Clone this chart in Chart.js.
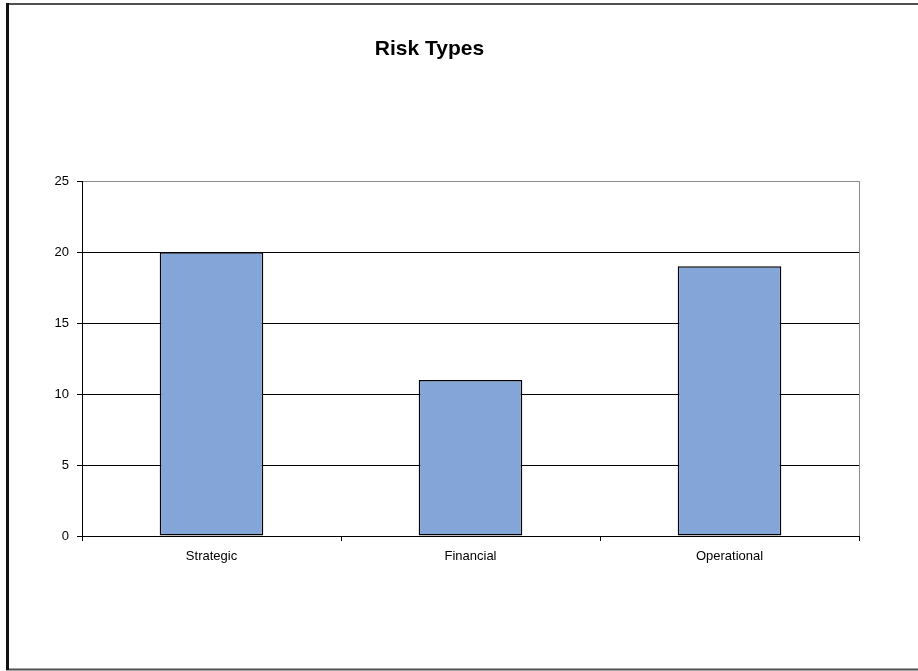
<!DOCTYPE html>
<html>
<head>
<meta charset="utf-8">
<script src="https://cdn.jsdelivr.net/npm/chart.js@4.4.1/dist/chart.umd.min.js"></script>
<style>
    html, body { margin: 0; padding: 0; background: #ffffff; }
    canvas { display: block; }
</style>
</head>
<body>
<canvas id="riskChart" width="918" height="671"></canvas>
<script>
const categories = ["Strategic", "Financial", "Operational"];
const riskCounts = [20, 11, 19];
const yTicks = [0, 5, 10, 15, 20, 25];

const colors = {
    bar: "#84a5d7",
    edge: "#000000",
    plotBorder: "#8c8c8c",
    frame: "#505050",
};

// page frame + right edge of the plot area, drawn like the Excel export
const framePlugin = {
    id: "frame",
    afterDraw(chart) {
        const ctx = chart.ctx;
        const area = chart.chartArea;
        ctx.save();
        ctx.strokeStyle = colors.frame;
        ctx.lineWidth = 2;
        ctx.beginPath();
        ctx.moveTo(6, 4);
        ctx.lineTo(918, 4);
        ctx.moveTo(6, 669.5);
        ctx.lineTo(918, 669.5);
        ctx.stroke();
        ctx.fillStyle = "#111111";
        ctx.fillRect(6, 3, 3, 667);
        ctx.strokeStyle = colors.plotBorder;
        ctx.lineWidth = 1;
        ctx.beginPath();
        ctx.moveTo(Math.round(area.right) + 0.5, area.top);
        ctx.lineTo(Math.round(area.right) + 0.5, area.bottom);
        ctx.stroke();
        ctx.restore();
    },
};

new Chart(document.getElementById("riskChart"), {
    type: "bar",
    data: {
        labels: categories,
        datasets: [
            {
                data: riskCounts,
                backgroundColor: colors.bar,
                borderColor: colors.edge,
                borderWidth: 1.5,
                borderSkipped: false,
                barPercentage: 0.4,
                categoryPercentage: 1,
            },
        ],
    },
    options: {
        responsive: false,
        animation: false,
        layout: { padding: { left: 0, right: 59, top: 0, bottom: 0 } },
        scales: {
            x: {
                afterFit(scale) {
                    scale.height = 135;
                },
                grid: {
                    offset: true,
                    drawOnChartArea: false,
                    tickLength: 5,
                    color: "#000000",
                },
                border: { color: "#000000", width: 1 },
                ticks: {
                    color: "#000000",
                    padding: 8,
                    font: { family: "Liberation Sans, Arial, sans-serif", size: 13 },
                },
            },
            y: {
                min: 0,
                max: 25,
                afterFit(scale) {
                    scale.width = 82;
                },
                afterBuildTicks(scale) {
                    scale.ticks = yTicks.map((value) => ({ value }));
                },
                grid: {
                    tickLength: 5,
                    color(context) {
                        return context.tick && context.tick.value === 25 ? colors.plotBorder : "#000000";
                    },
                    tickColor: "#000000",
                },
                border: { color: "#000000", width: 1 },
                ticks: {
                    color: "#000000",
                    padding: 8,
                    font: { family: "Liberation Sans, Arial, sans-serif", size: 13 },
                },
            },
        },
        plugins: {
            legend: { display: false },
            tooltip: { enabled: false },
            title: {
                display: true,
                text: "Risk Types",
                color: "#000000",
                font: { family: "Liberation Sans, Arial, sans-serif", size: 21, weight: "bold", lineHeight: 1.2 },
                padding: { top: 37, bottom: 119 },
            },
        },
    },
    plugins: [framePlugin],
});
</script>
</body>
</html>
